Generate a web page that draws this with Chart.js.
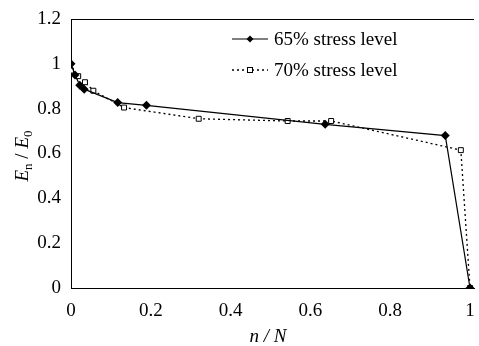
<!DOCTYPE html>
<html>
<head>
<meta charset="utf-8">
<script src="https://cdn.jsdelivr.net/npm/chart.js@4"></script>
<style>
  html, body { margin: 0; padding: 0; background: #fff; }
  #wrap { width: 479px; height: 346px; }
</style>
</head>
<body>
<div id="wrap"><canvas id="myChart"></canvas></div>
<script>
// values
const nN65 = [0, 0.01, 0.022, 0.033, 0.117, 0.189, 0.637, 0.938, 1];
const ratio65 = [1.0, 0.95, 0.905, 0.887, 0.827, 0.815, 0.73, 0.68, 0];
const nN70 = [0, 0.018, 0.035, 0.056, 0.133, 0.32, 0.543, 0.652, 0.977, 1];
const ratio70 = [0.97, 0.945, 0.918, 0.88, 0.805, 0.755, 0.745, 0.745, 0.615, 0];
const seriesNames = ['65% stress level', '70% stress level'];
const xTicks = [0, 0.2, 0.4, 0.6, 0.8, 1];
const yTicks = [0, 0.2, 0.4, 0.6, 0.8, 1, 1.2];

const serif = '"Liberation Serif", "Times New Roman", serif';
const toPts = (xs, ys) => xs.map((x, i) => ({ x: x, y: ys[i] }));

// legend + axis titles + top frame line
const decor = {
  id: 'decor',
  afterDraw(chart) {
    const c = chart.ctx;
    const a = chart.chartArea;
    c.save();
    c.strokeStyle = '#000';
    c.lineWidth = 1;
    c.beginPath();
    c.moveTo(a.left, a.top + 0.5);
    c.lineTo(a.right, a.top + 0.5);
    c.stroke();

    // legend
    const rows = [
      { y: 39, dash: [], style: 'diamond' },
      { y: 70, dash: [2, 3], style: 'square' }
    ];
    rows.forEach((r, i) => {
      c.setLineDash(r.dash);
      c.lineWidth = r.dash.length ? 1.3 : 1.2;
      c.beginPath();
      c.moveTo(232, r.y);
      c.lineTo(268, r.y);
      c.stroke();
      c.setLineDash([]);
      if (r.style === 'diamond') {
        c.fillStyle = '#000';
        c.beginPath();
        c.moveTo(250, r.y - 3.5); c.lineTo(253.5, r.y);
        c.lineTo(250, r.y + 3.5); c.lineTo(246.5, r.y);
        c.closePath(); c.fill();
      } else {
        c.fillStyle = '#fff';
        c.fillRect(247, r.y - 3, 6, 6);
        c.lineWidth = 1;
        c.strokeRect(247.5, r.y - 2.5, 5, 5);
      }
      c.fillStyle = '#000';
      c.font = '19px ' + serif;
      c.textBaseline = 'middle';
      c.textAlign = 'left';
      c.fillText(seriesNames[i], 274, r.y + 1);
    });

    // x title: n / N
    c.textBaseline = 'alphabetic';
    c.font = 'italic 19px ' + serif;
    const xt = 'n / N';
    const w = c.measureText(xt).width;
    c.fillText(xt, 268 - w / 2, 342);

    // y title: En / E0
    c.translate(28, 156);
    c.rotate(-Math.PI / 2);
    const big = 'italic 19px ' + serif;
    const small = '13px ' + serif;
    const parts = [
      { t: 'E', f: big, dy: 0 },
      { t: 'n', f: small, dy: 4 },
      { t: ' / ', f: '19px ' + serif, dy: 0 },
      { t: 'E', f: big, dy: 0 },
      { t: '0', f: small, dy: 4 }
    ];
    let total = 0;
    parts.forEach(p => { c.font = p.f; p.w = c.measureText(p.t).width; total += p.w; });
    let px = -total / 2;
    parts.forEach(p => { c.font = p.f; c.fillText(p.t, px, p.dy); px += p.w; });
    c.restore();
  }
};

new Chart(document.getElementById('myChart'), {
  type: 'scatter',
  data: {
    datasets: [{
      label: seriesNames[0],
      data: toPts(nN65, ratio65),
      showLine: true,
      borderColor: '#000',
      borderWidth: 1.2,
      backgroundColor: '#000',
      pointStyle: 'rectRot',
      pointRadius: 4.5,
      pointBorderWidth: 0,
      pointBackgroundColor: '#000'
    }, {
      label: seriesNames[1],
      data: toPts(nN70, ratio70),
      showLine: true,
      borderColor: '#000',
      borderWidth: 1.3,
      borderDash: [2, 3],
      pointStyle: 'rect',
      pointRadius: 3.5,
      pointBorderWidth: 1,
      pointBorderColor: '#000',
      pointBackgroundColor: '#fff'
    }]
  },
  options: {
    responsive: true,
    maintainAspectRatio: false,
    animation: false,
    layout: { padding: { top: 19, right: 0, left: 0, bottom: 0 } },
    plugins: { legend: { display: false }, tooltip: { enabled: false } },
    scales: {
      x: {
        type: 'linear',
        min: 0,
        max: 1.01,
        afterBuildTicks: s => { s.ticks = xTicks.map(v => ({ value: v })); },
        afterFit: s => { s.height = 58; s.paddingRight = 0; s.paddingLeft = 0; },
        grid: { display: false, drawTicks: false },
        border: { color: '#000', width: 1 },
        ticks: {
          color: '#000',
          padding: 12,
          maxRotation: 0,
          font: { family: serif, size: 19 },
          callback: v => String(v)
        }
      },
      y: {
        min: 0,
        max: 1.2,
        afterBuildTicks: s => { s.ticks = yTicks.map(v => ({ value: v })); },
        afterFit: s => { s.width = 71; s.paddingTop = 0; s.paddingBottom = 0; },
        grid: { display: false, drawTicks: false },
        border: { color: '#000', width: 1 },
        ticks: {
          color: '#000',
          padding: 10,
          font: { family: serif, size: 19 },
          callback: v => String(v)
        }
      }
    }
  },
  plugins: [decor]
});
</script>
</body>
</html>
